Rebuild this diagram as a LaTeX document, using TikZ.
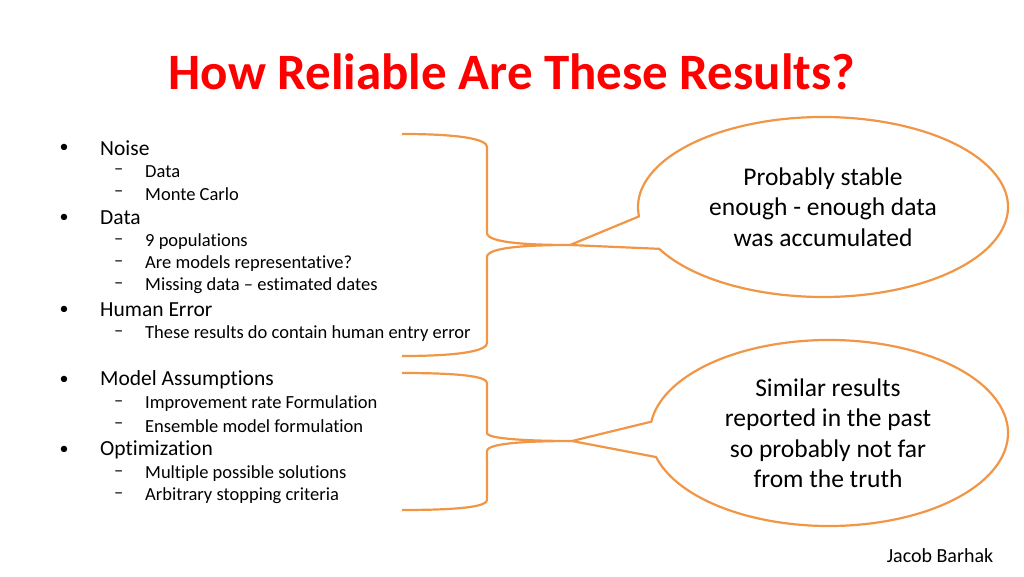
\documentclass[tikz,border=0pt]{standalone}
\usepackage{fontspec}
\setmainfont{Carlito}[Ligatures={NoCommon,NoContextual}]
\begin{document}
\begin{tikzpicture}[x=1pt,y=1pt,
  orn/.style={draw={rgb,255:red,240;green,150;blue,70},line width=2.2pt,line join=round},
  lone/.style={anchor=west,font=\fontsize{21.5}{24}\selectfont,inner sep=0},
  ltwo/.style={anchor=west,font=\fontsize{18.5}{20}\selectfont,inner sep=0},
  bul/.style={anchor=center,font=\fontsize{18}{20}\selectfont,inner sep=0},
  ctext/.style={align=center,font=\fontsize{25.5}{30.5}\selectfont}]
\useasboundingbox (0,0) rectangle (1024,576);
\node[font=\fontsize{51}{56}\selectfont\bfseries,text={rgb,255:red,255;green,0;blue,0}] (title) at (512,504) {How Reliable Are These Results?};
% list
\foreach \y/\t [count=\i] in {148/Noise,218/Data,310/Human Error,380/Model Assumptions,450/Optimization}{
  \node[bul] (b\i) at (64,{576-\y}) {•};
  \node[lone] (t\i) at (100,{576-\y}) {\t};
}
\foreach \y/\t [count=\i] in {172/Data,194/Monte Carlo,242/9 populations,264/Are models representative?,286/Missing data – estimated dates,334/These results do contain human entry error,404/Improvement rate Formulation,426/Ensemble model formulation,474/Multiple possible solutions,496/Arbitrary stopping criteria}{
  \node[ltwo] (d\i) at (114,{576-\y}) {–};
  \node[ltwo] (s\i) at (145,{576-\y}) {\t};
}
% braces
\draw[orn] (402,442) .. controls (465,442) and (487,436) .. (487,429) -- (487,343)
  .. controls (487,333) and (530,331) .. (570,331)
  .. controls (530,331) and (487,329) .. (487,319) -- (487,233)
  .. controls (487,226) and (465,220) .. (402,220);
\draw[orn] (402,203) .. controls (465,203) and (487,199) .. (487,193) -- (487,143)
  .. controls (487,137) and (530,135) .. (572,135)
  .. controls (530,135) and (487,133) .. (487,125) -- (487,76)
  .. controls (487,70) and (465,66) .. (402,66);
% callouts
\coordinate (tip1) at (570,331);
\coordinate (tip2) at (572,135);
\draw[orn,fill=white] (tip1) -- ([shift={(823pt,369pt)}]207.7:185pt and 90pt)
  arc[start angle=207.7,end angle=546,x radius=185pt,y radius=90pt] -- cycle;
\draw[orn,fill=white] (tip2) -- ([shift={(829pt,143pt)}]195:179pt and 93pt)
  arc[start angle=195,end angle=533,x radius=179pt,y radius=93pt] -- cycle;
\node[ctext] (c1) at (823,369) {Probably stable\\enough - enough data\\was accumulated};
\node[ctext] (c2) at (828,143) {Similar results\\reported in the past\\so probably not far\\from the truth};
\node[font=\fontsize{20}{22}\selectfont] (auth) at (940,20) {Jacob Barhak};
\end{tikzpicture}
\end{document}
